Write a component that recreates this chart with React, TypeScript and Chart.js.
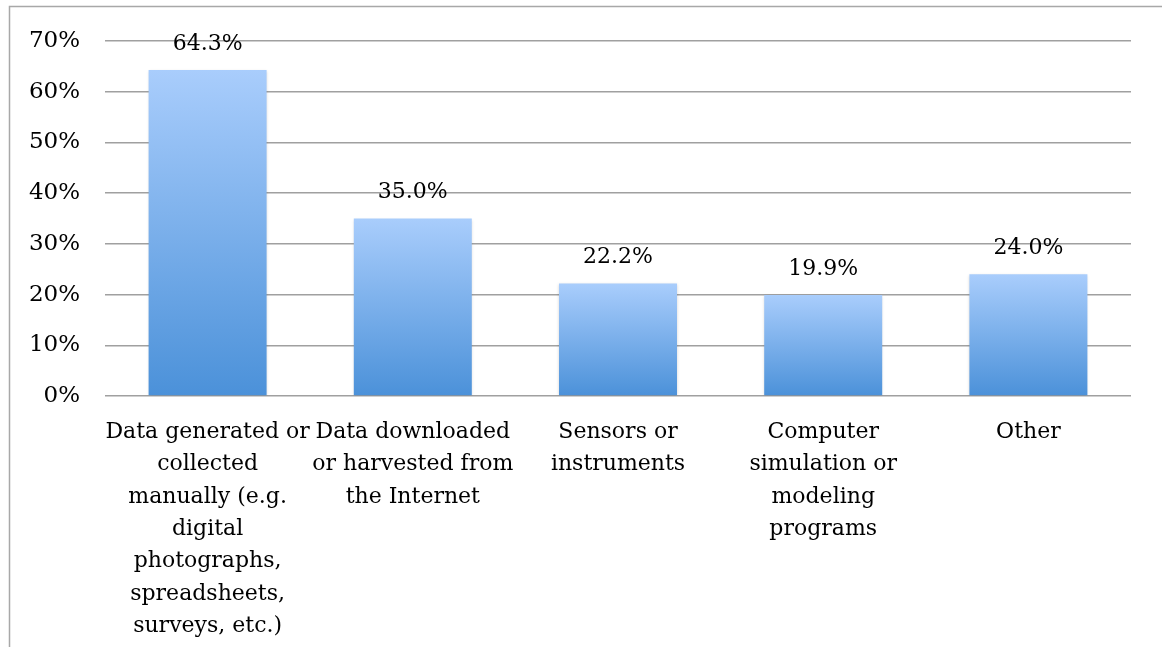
import React, { useEffect, useRef } from "react";
import { Chart, registerables } from "chart.js";

Chart.register(...registerables);

const categories: string[][] = [
  ["Data generated or", "collected", "manually (e.g.", "digital", "photographs,", "spreadsheets,", "surveys, etc.)"],
  ["Data downloaded", "or harvested from", "the Internet"],
  ["Sensors or", "instruments"],
  ["Computer", "simulation or", "modeling", "programs"],
  ["Other"],
];
const values: number[] = [64.3, 35.0, 22.2, 19.9, 24.0];
const yTicks: number[] = [0, 10, 20, 30, 40, 50, 60, 70];

const FONT = "'DejaVu Serif', serif";
const W = 1162;
const H = 647;

const framePlugin = {
  id: "frame",
  beforeDraw(chart: any) {
    const ctx = chart.ctx;
    ctx.save();
    ctx.fillStyle = "#ffffff";
    ctx.fillRect(0, 0, chart.width, chart.height);
    ctx.strokeStyle = "#a8a8a8";
    ctx.lineWidth = 1.5;
    ctx.beginPath();
    ctx.moveTo(9.5, chart.height);
    ctx.lineTo(9.5, 6.5);
    ctx.lineTo(chart.width, 6.5);
    ctx.stroke();
    ctx.restore();
  },
};

const shadowPlugin = {
  id: "barShadow",
  beforeDatasetsDraw(chart: any) {
    const ctx = chart.ctx;
    ctx.save();
    ctx.shadowColor = "rgba(0,0,0,0.18)";
    ctx.shadowBlur = 3;
    ctx.shadowOffsetX = 0;
    ctx.shadowOffsetY = 1;
  },
  afterDatasetsDraw(chart: any) {
    chart.ctx.restore();
  },
};

const valueLabelPlugin = {
  id: "valueLabels",
  afterDatasetsDraw(chart: any) {
    const ctx = chart.ctx;
    const meta = chart.getDatasetMeta(0);
    ctx.save();
    ctx.font = `22px ${FONT}`;
    ctx.fillStyle = "#000";
    ctx.textAlign = "center";
    ctx.textBaseline = "middle";
    meta.data.forEach((bar: any, i: number) => {
      ctx.fillText(values[i].toFixed(1) + "%", bar.x, bar.y - 26);
    });
    ctx.restore();
  },
};

export default function App() {
  const ref = useRef<HTMLCanvasElement | null>(null);

  useEffect(() => {
    if (!ref.current) return;
    const chart = new Chart(ref.current, {
      type: "bar",
      data: {
        labels: categories,
        datasets: [
          {
            data: values,
            backgroundColor: (c: any) => {
              const ch = c.chart;
              const y = ch.scales?.y;
              if (!y || !ch.chartArea || c.raw === undefined) return "#7aaee8";
              const top = y.getPixelForValue(c.raw);
              const bottom = y.getPixelForValue(0);
              const g = ch.ctx.createLinearGradient(0, top, 0, bottom);
              g.addColorStop(0, "#a9cdfc");
              g.addColorStop(1, "#4b91d9");
              return g;
            },
            borderWidth: 0,
            barPercentage: 0.575,
            categoryPercentage: 1,
          },
        ],
      },
      options: {
        responsive: false,
        animation: false,
        devicePixelRatio: 1,
        layout: { padding: { left: 0, right: 31, top: 41, bottom: 0 } },
        plugins: {
          legend: { display: false },
          tooltip: { enabled: false },
        },
        scales: {
          x: {
            grid: { display: false },
            border: { display: false },
            ticks: {
              color: "#000",
              font: { family: FONT, size: 22, lineHeight: 1.47 },
              maxRotation: 0,
              minRotation: 0,
              autoSkip: false,
              padding: 12,
            },
            afterFit: (s: any) => {
              s.height = H - 396;
            },
          },
          y: {
            min: 0,
            max: 70,
            afterBuildTicks: (s: any) => {
              s.ticks = yTicks.map((v) => ({ value: v }));
            },
            grid: { color: "#a0a0a0", lineWidth: 1.5, drawTicks: false },
            border: { display: false },
            ticks: {
              color: "#000",
              font: { family: FONT, size: 23 },
              padding: 25,
              callback: (v: any) => v + "%",
            },
            afterFit: (s: any) => {
              s.width = 105;
            },
          },
        },
      },
      plugins: [framePlugin, shadowPlugin, valueLabelPlugin],
    });
    return () => chart.destroy();
  }, []);

  return (
    <canvas
      ref={ref}
      width={W}
      height={H}
      style={{ position: "absolute", left: 0, top: 0, width: W, height: H, display: "block" }}
    />
  );
}
